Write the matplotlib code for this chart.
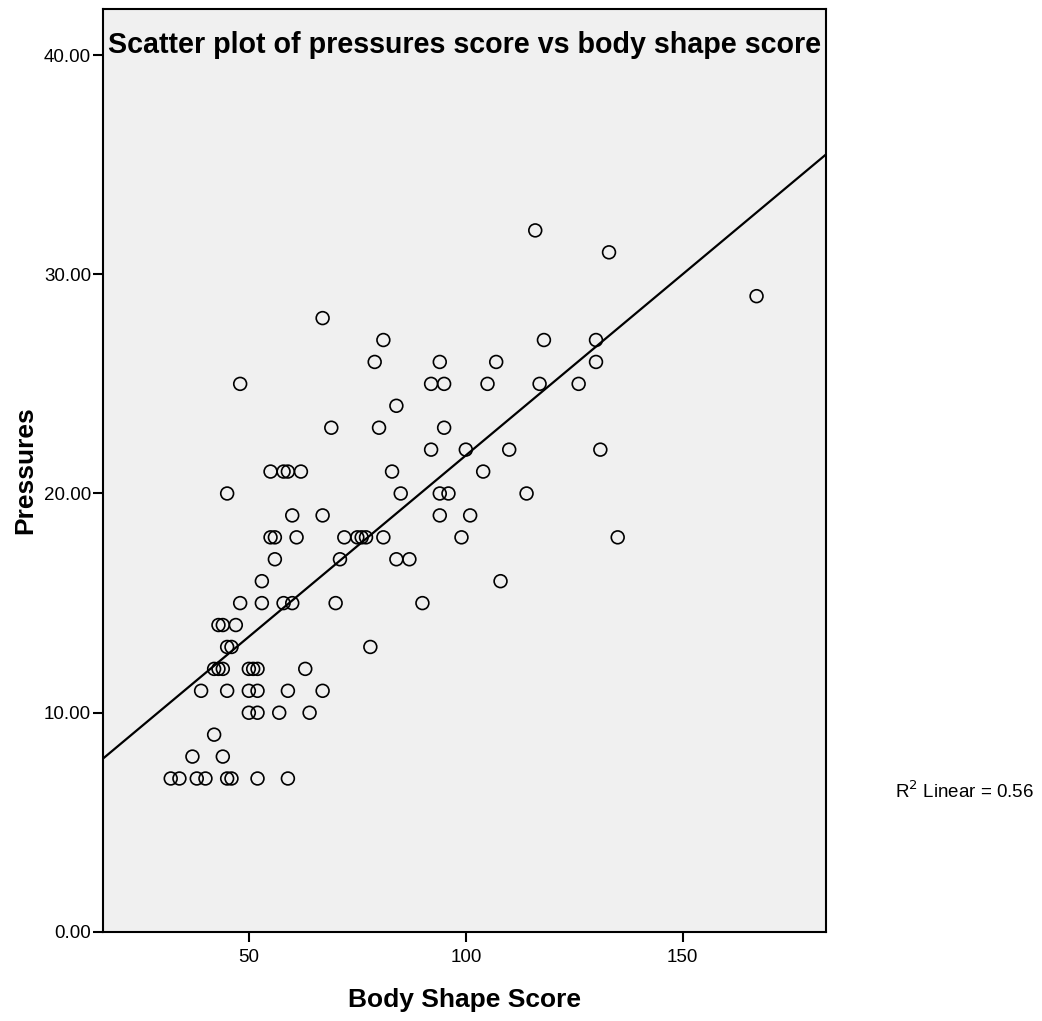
"""
Scatter of pressures score against body shape score, with linear fit line.
Output: out.png
"""

import numpy as np
import matplotlib
matplotlib.use("Agg")
import matplotlib.pyplot as plt

plt.rcParams["font.family"] = ["Liberation Sans", "DejaVu Sans"]

# ---------------------------------------------------------------------------
# Data
# ---------------------------------------------------------------------------
body_shape = [
    32, 34, 38, 40, 45, 46, 52, 59,          # 7
    37, 44,                                  # 8
    42,                                      # 9
    50, 52, 57, 64,                          # 10
    39, 45, 50, 52, 59, 67,                  # 11
    42, 43, 44, 50, 51, 52, 63,              # 12
    45, 46, 78,                              # 13
    43, 44, 47,                              # 14
    48, 53, 58, 60, 70, 90,                  # 15
    53, 108,                                 # 16
    56, 71, 84, 87,                          # 17
    55, 56, 61, 72, 75, 76, 77, 81, 99, 135, # 18
    60, 67, 94, 101,                         # 19
    45, 85, 94, 96, 114,                     # 20
    55, 58, 59, 62, 83, 104,                 # 21
    92, 100, 110, 131,                       # 22
    69, 80, 95,                              # 23
    84,                                      # 24
    48, 92, 95, 105, 117, 126,               # 25
    79, 94, 107, 130,                        # 26
    81, 118, 130,                            # 27
    67,                                      # 28
    167,                                     # 29
    133,                                     # 31
    116,                                     # 32
]
pressures = (
    [7] * 8 + [8] * 2 + [9] * 1 + [10] * 4 + [11] * 6 + [12] * 7 + [13] * 3
    + [14] * 3 + [15] * 6 + [16] * 2 + [17] * 4 + [18] * 10 + [19] * 4
    + [20] * 5 + [21] * 6 + [22] * 4 + [23] * 3 + [24] * 1 + [25] * 6
    + [26] * 4 + [27] * 3 + [28] * 1 + [29] * 1 + [31] * 1 + [32] * 1
)

x = np.array(body_shape, dtype=float)
y = np.array(pressures, dtype=float)

# ---------------------------------------------------------------------------
# Linear fit
# ---------------------------------------------------------------------------
slope, intercept = np.polyfit(x, y, 1)
r2 = np.corrcoef(x, y)[0, 1] ** 2
print(f"slope={slope:.4f} intercept={intercept:.4f} r2={r2:.3f} n={len(x)}")

# ---------------------------------------------------------------------------
# Chart
# ---------------------------------------------------------------------------
fig = plt.figure(figsize=(10.42, 10.21), dpi=100)
ax = fig.add_axes([0.0993, 0.0872, 0.6934, 0.9038])
ax.set_facecolor("#f0f0f0")

xlim = (16.5, 183.0)
ylim = (0, 42.09)
ax.set_xlim(*xlim)
ax.set_ylim(*ylim)

ax.scatter(x, y, s=85, facecolors="none", edgecolors="black",
           linewidths=1.2, zorder=3, clip_on=False)

xs = np.array(xlim)
ax.plot(xs, intercept + slope * xs, color="black", linewidth=1.6, zorder=2)

ax.set_xticks([50, 100, 150])
ax.set_yticks([0, 10, 20, 30, 40])
ax.set_yticklabels([f"{v:.2f}" for v in [0, 10, 20, 30, 40]])
ax.tick_params(axis="both", direction="out", length=7, width=1.5,
               labelsize=13.5, color="black", pad=2)
ax.tick_params(axis="x", pad=5)
for sp in ax.spines.values():
    sp.set_linewidth(1.5)

ax.set_xlabel("Body Shape Score", fontsize=19, fontweight="bold", labelpad=16)
ax.set_ylabel("Pressures", fontsize=19, fontweight="bold", labelpad=5)

ax.text(0.5, 0.961, "Scatter plot of pressures score vs body shape score",
        transform=ax.transAxes, ha="center", va="center",
        fontsize=20.6, fontweight="bold")

fig.text(0.859, 0.2255, f"R$^2$ Linear = {r2:.2f}", fontsize=13.5,
         ha="left", va="center")

fig.savefig("out.png", dpi=100)
